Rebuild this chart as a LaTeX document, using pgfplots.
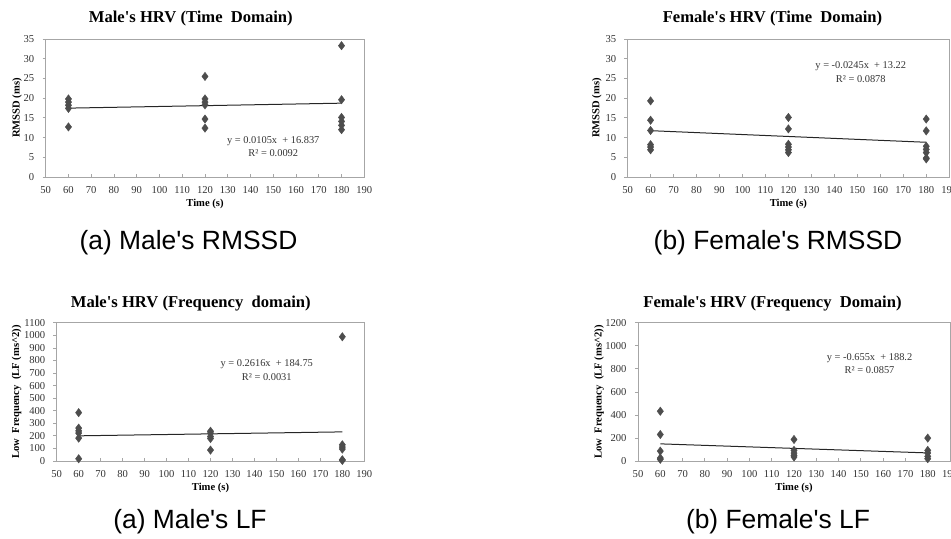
\documentclass[border=0pt]{standalone}
\usepackage{fontspec}
\setmainfont{Liberation Serif}
\newfontfamily\capfont{Liberation Sans}
\usepackage{pgfplots}
\pgfplotsset{compat=1.18}

\definecolor{frame}{HTML}{A6A6A6}
\definecolor{ptcol}{HTML}{4D4D4D}
\definecolor{txt}{HTML}{333333}

\tikzset{eq/.style={font=\fontsize{5.2}{6}\selectfont, text=txt, align=center}}

\pgfplotsset{
  hrv/.style={
    scale only axis, anchor=south west,
    xmin=50, xmax=190, xtick={50,60,...,190},
    axis line style={draw=frame, line width=0.5pt},
    tick style={draw=frame, line width=0.4pt},
    major tick length=1.6pt,
    xtick align=inside, ytick align=outside,
    xtick pos=bottom, ytick pos=left,
    tick label style={font=\fontsize{5.3}{6}\selectfont, text=txt},
    /pgf/number format/assume math mode=true,
    /pgf/number format/1000 sep={},
    xticklabel style={yshift=-1.2pt},
    yticklabel style={xshift=-0.6pt},
    label style={font=\bfseries\fontsize{5.3}{6}\selectfont},
    xlabel={Time (s)},
    xlabel style={at={(axis description cs:0.5,-0.196)}, anchor=center},
  },
  ptsty/.style={only marks, mark=diamond*, mark size=2.1pt,
    mark options={fill=ptcol, draw=ptcol, line width=0.2pt}},
  fitsty/.style={no marks, black!85, line width=0.5pt},
}

\begin{document}
\begin{tikzpicture}
\useasboundingbox (0,0) rectangle (475.5pt,269pt);

% (a) male RMSSD
\begin{axis}[hrv, at={(22.85pt,180.5pt)}, width=159.3pt, height=69pt,
  ymin=0, ymax=35, ytick={0,5,...,35},
  ylabel={RMSSD (ms)},
  ylabel style={at={(axis description cs:-0.09,0.5)}, anchor=center}]
\addplot[ptsty] coordinates {
  (60,19.8)(60,19.0)(60,18.2)(60,17.4)(60,12.7)
  (120,25.5)(120,19.8)(120,19.0)(120,18.3)(120,14.7)(120,12.4)
  (180,33.3)(180,19.6)(180,15.1)(180,14.1)(180,13.1)(180,12.0)};
\addplot[fitsty] coordinates {(60,17.467)(180,18.727)};
\node[eq] at (axis cs:150,9.2) {y = 0.0105x~ + 16.837};
\node[eq] at (axis cs:150,6.0) {R² = 0.0092};
\end{axis}

% (b) female RMSSD
\begin{axis}[hrv, at={(313.8pt,180.5pt)}, width=160.8pt, height=69pt,
  ymin=0, ymax=35, ytick={0,5,...,35},
  ylabel={RMSSD (ms)},
  ylabel style={at={(axis description cs:-0.096,0.5)}, anchor=center}]
\addplot[ptsty] coordinates {
  (60,19.3)(60,14.4)(60,11.8)(60,8.2)(60,7.6)(60,6.9)
  (120,15.1)(120,12.2)(120,8.3)(120,7.6)(120,6.9)(120,6.2)
  (180,14.7)(180,11.7)(180,7.8)(180,7.0)(180,6.2)(180,4.8)(180,4.6)};
\addplot[fitsty] coordinates {(60,11.75)(180,8.81)};
\node[eq] at (axis cs:151.5,28.2) {y = -0.0245x~ + 13.22};
\node[eq] at (axis cs:151.5,24.9) {R² = 0.0878};
\end{axis}

% (a) male LF
\begin{axis}[hrv, at={(28.35pt,38.5pt)}, width=153.8pt, height=69.1pt,
  ymin=0, ymax=1100, ytick={0,100,...,1100},
  ylabel={Low\ \ Frequency\ \ (LF (ms\^{}2))},
  ylabel style={at={(axis description cs:-0.13,0.5)}, anchor=center}]
\addplot[ptsty] coordinates {
  (60,385)(60,262)(60,240)(60,222)(60,182)(60,18)
  (120,237)(120,222)(120,195)(120,179)(120,87)
  (180,989)(180,129)(180,111)(180,95)(180,10)(180,5)};
\addplot[fitsty] coordinates {(60,200.45)(180,231.84)};
\node[eq] at (axis cs:145.6,768) {y = 0.2616x~ + 184.75};
\node[eq] at (axis cs:145.6,665) {R² = 0.0031};
\end{axis}

% (b) female LF
\begin{axis}[hrv, at={(319pt,38.5pt)}, width=156pt, height=69.1pt,
  ymin=0, ymax=1200, ytick={0,200,...,1200},
  ylabel={Low\ \ Frequency\ \ (LF (ms\^{}2))},
  ylabel style={at={(axis description cs:-0.125,0.5)}, anchor=center}]
\addplot[ptsty] coordinates {
  (60,432)(60,230)(60,86)(60,26)(60,15)
  (120,187)(120,92)(120,69)(120,49)(120,35)
  (180,199)(180,92)(180,69)(180,40)(180,20)};
\addplot[fitsty] coordinates {(60,148.9)(180,70.3)};
\node[eq] at (axis cs:153.9,889) {y = -0.655x~ + 188.2};
\node[eq] at (axis cs:153.9,788) {R² = 0.0857};
\end{axis}

% panel titles
\begin{scope}[every node/.style={font=\bfseries\fontsize{8.3}{10}\selectfont}]
\node at (95.4pt,259.8pt) {Male\textquotesingle s HRV (Time\ \ Domain)};
\node at (386.25pt,259.8pt) {Female\textquotesingle s HRV (Time\ \ Domain)};
\node at (95.4pt,117.2pt) {Male\textquotesingle s HRV (Frequency\ \ domain)};
\node at (386.25pt,117.2pt) {Female\textquotesingle s HRV (Frequency\ \ Domain)};
\end{scope}

% sub-figure captions
\begin{scope}[every node/.style={font=\capfont\fontsize{13.2}{15}\selectfont}]
\node at (94.25pt,147.5pt) {(a) Male's RMSSD};
\node at (389pt,147.5pt) {(b) Female's RMSSD};
\node at (95pt,8pt) {(a) Male's LF};
\node at (389pt,8pt) {(b) Female's LF};
\end{scope}
\end{tikzpicture}
\end{document}
